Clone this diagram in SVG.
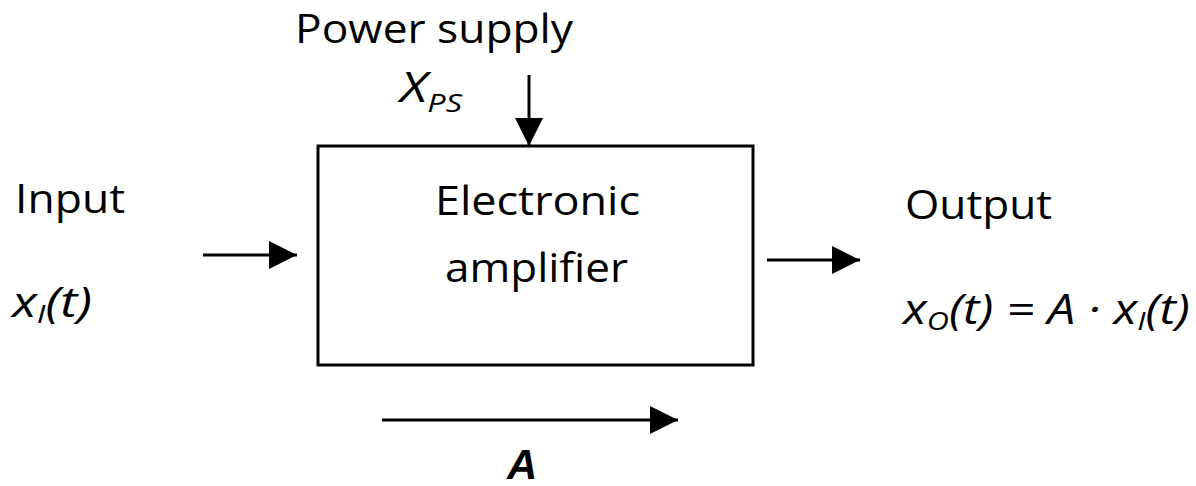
<svg xmlns="http://www.w3.org/2000/svg" width="1196" height="486" viewBox="0 0 1196 486">
<style>
.t{font-family:"Open Sans","Noto Sans",sans-serif;font-size:40px;fill:#000}
.i{font-style:italic;font-size:42px}
.s{font-size:26px}
.ln{stroke:#000;stroke-width:3;fill:none}
</style>
<defs>
<marker id="ah" markerUnits="userSpaceOnUse" markerWidth="28" markerHeight="28" refX="28" refY="14" orient="auto">
<path d="M0,0 L28,14 L0,28 Z" fill="#000"/>
</marker>
</defs>
<rect width="1196" height="486" fill="#fff"/>
<g id="amplifier">
<rect class="ln" x="318" y="146" width="435" height="219"/>
<text class="t" x="435" y="215" textLength="205" lengthAdjust="spacingAndGlyphs">Electronic</text>
<text class="t" x="445" y="282" textLength="183" lengthAdjust="spacingAndGlyphs">amplifier</text>
</g>
<g id="power">
<text class="t" x="295" y="43" textLength="278" lengthAdjust="spacingAndGlyphs">Power supply</text>
<text class="t i" x="400" y="102" textLength="62" lengthAdjust="spacingAndGlyphs">X<tspan class="s" dy="10">PS</tspan></text>
</g>
<g id="input">
<text class="t" x="15" y="213" textLength="110" lengthAdjust="spacingAndGlyphs">Input</text>
<text class="t i" x="12" y="317" textLength="80" lengthAdjust="spacingAndGlyphs">x<tspan class="s" dy="6">I</tspan><tspan dy="-6">(t)</tspan></text>
</g>
<g id="output">
<text class="t" x="905" y="219" textLength="147" lengthAdjust="spacingAndGlyphs">Output</text>
<text class="t i" x="903" y="324" textLength="287" lengthAdjust="spacingAndGlyphs">x<tspan class="s" dy="6">O</tspan><tspan dy="-6">(t) = A · x</tspan><tspan class="s" dy="6">I</tspan><tspan dy="-6">(t)</tspan></text>
</g>
<g id="gain">
<text x="507" y="479" style="font-family:'Liberation Sans',Arial,sans-serif;font-size:42px;font-weight:bold;font-style:italic">A</text>
</g>
<g id="connectors">
<line class="ln" x1="529" y1="75" x2="529" y2="146" marker-end="url(#ah)"/>
<line class="ln" x1="203" y1="255" x2="297" y2="255" marker-end="url(#ah)"/>
<line class="ln" x1="767" y1="260" x2="860" y2="260" marker-end="url(#ah)"/>
<line class="ln" x1="382" y1="420" x2="678" y2="420" marker-end="url(#ah)"/>
</g>
</svg>
